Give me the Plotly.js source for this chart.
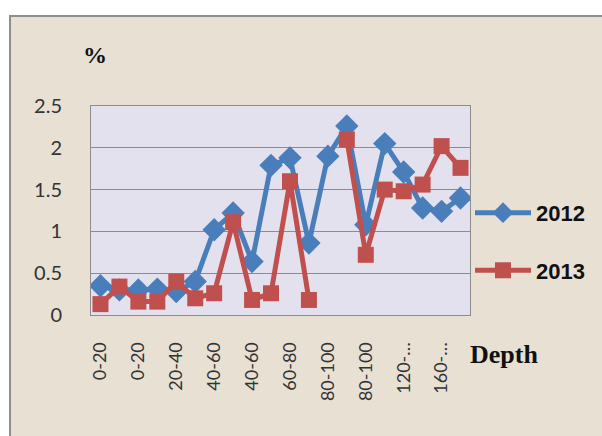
<!DOCTYPE html>
<html>
<head>
<meta charset="utf-8">
<script src="https://cdn.plot.ly/plotly-3.0.1.min.js"></script>
<style>
html,body{margin:0;padding:0;background:#ffffff;}
#bg{position:absolute;left:9px;top:15px;width:600px;height:430px;background:#e7e0d3;border-top:2px solid #8e8e8a;border-left:2px solid #8e8e8a;}
#chart{position:absolute;left:0;top:0;width:602px;height:436px;}
</style>
</head>
<body>
<div id="bg"></div>
<div id="chart"></div>
<script>
// Depth categories (20 points; every other one is labelled on the axis)
var depth = ["0-20","0-20","0-20","20-40","20-40","20-40","40-60","40-60","40-60","60-80",
             "60-80","60-80","80-100","80-100","80-100","100-120","120-140","140-160","160-180","180-200"];
var tickLabels = ["0-20","0-20","20-40","40-60","40-60","60-80","80-100","80-100","120-…","160-…"];
var v2012 = [0.35,0.30,0.30,0.31,0.28,0.40,1.02,1.22,0.64,1.79,1.88,0.86,1.90,2.26,1.08,2.05,1.71,1.28,1.24,1.40];
var v2013 = [0.13,0.34,0.16,0.16,0.40,0.20,0.26,1.11,0.18,0.26,1.60,0.18,null,2.10,0.72,1.50,1.48,1.56,2.02,1.76];

var xIdx = depth.map(function(d,i){return i;});
var tickIdx = tickLabels.map(function(t,i){return i*2;});

var traces = [
  {x:xIdx, y:v2012, name:"2012", legendgroup:"a", type:"scatter", mode:"lines+markers",
   line:{color:"#4a7ebb", width:5}, marker:{symbol:"diamond", size:18, color:"#4a7ebb"}},
  {x:xIdx, y:v2013, name:"2013", legendgroup:"b", type:"scatter", mode:"lines+markers",
   line:{color:"#c0504d", width:5}, marker:{symbol:"square", size:16, color:"#c0504d"}}
];

var layout = {
  width:602, height:436,
  paper_bgcolor:"rgba(0,0,0,0)",
  plot_bgcolor:"#e4e1ef",
  margin:{l:91, r:130, t:106, b:121},
  font:{family:"Lato, 'Liberation Sans', sans-serif", color:"#333333"},
  xaxis:{range:[-0.5,19.5], tickvals:tickIdx, ticktext:tickLabels, tickangle:-90,
         tickfont:{size:18, color:"#333333"}, showgrid:false, zeroline:false,
         showline:true, mirror:true, linecolor:"#8c8c8c", linewidth:1, ticks:"", ticklabelstandoff:19},
  yaxis:{range:[0,2.5], tickvals:[0,0.5,1,1.5,2,2.5], ticktext:["0","0.5","1","1.5","2","2.5"],
         tickfont:{size:20, color:"#333333"}, showgrid:true, gridcolor:"#8c8c8c", gridwidth:1,
         zeroline:false, showline:true, mirror:true, linecolor:"#8c8c8c", linewidth:1, ticks:"", ticklabelstandoff:24},
  showlegend:true,
  legend:{x:1.0, xanchor:"left", y:0.35, yanchor:"middle", bgcolor:"rgba(0,0,0,0)",
          font:{size:22, color:"#111111", family:"'Liberation Sans', Arial, sans-serif", weight:"bold"},
          itemwidth:56, tracegroupgap:26},
  annotations:[
    {text:"%", xref:"paper", yref:"paper", x:0.01, y:1.245, xanchor:"center", yanchor:"middle", showarrow:false,
     font:{family:"'Liberation Serif', 'Times New Roman', serif", size:24, color:"#111111", weight:"bold"}},
    {text:"Depth", xref:"paper", yref:"paper", x:0.995, y:-0.19, xanchor:"left", yanchor:"middle", showarrow:false,
     font:{family:"'Liberation Serif', 'Times New Roman', serif", size:26, color:"#111111", weight:"bold"}}
  ]
};

Plotly.newPlot("chart", traces, layout, {displayModeBar:false, staticPlot:true});
</script>
</body>
</html>
